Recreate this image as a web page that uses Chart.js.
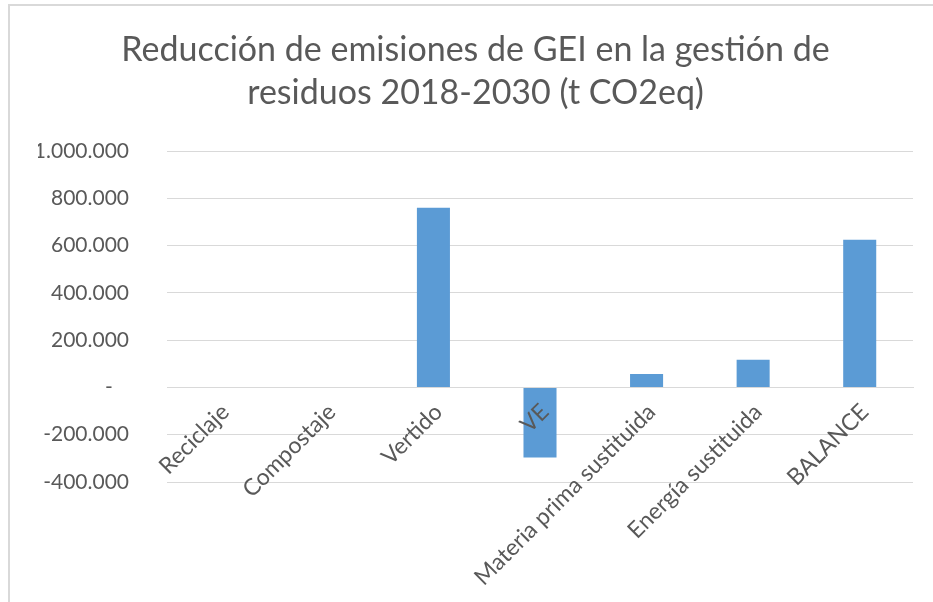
<!DOCTYPE html>
<html><head><meta charset="utf-8">
<script src="https://cdn.jsdelivr.net/npm/chart.js@4"></script>
<style>
html,body{margin:0;padding:0;background:#fff;overflow:hidden}
#wrap{position:relative;width:933px;height:602px}
#frame{position:absolute;left:8px;top:4px;width:940px;height:610px;border-left:2px solid #d9d9d9;border-top:2px solid #d9d9d9;pointer-events:none}
canvas{position:absolute;left:0;top:0}
</style></head><body>
<div id="wrap"><canvas id="c" width="933" height="602"></canvas><div id="frame"></div></div>
<script>
const titleLines = ['Reducción de emisiones de GEI en la gestión de', 'residuos 2018-2030 (t CO2eq)'];
const categories = ['Reciclaje', 'Compostaje', 'Vertido', 'VE', 'Materia prima sustituida', 'Energía sustituida', 'BALANCE'];
const values = [0, 0, 760000, -296000, 57000, 117000, 625000];
const yTicks = [-400000, -200000, 0, 200000, 400000, 600000, 800000, 1000000];
const yTickLabels = ['-400.000', '-200.000', '-   ', '200.000', '400.000', '600.000', '800.000', '1.000.000'];

const FONT = 'Lato';
const GREY = '#595959';

new Chart(document.getElementById('c').getContext('2d'), {
  type: 'bar',
  data: {
    labels: categories,
    datasets: [{
      data: values,
      backgroundColor: '#5b9bd5',
      barPercentage: 0.31,
      categoryPercentage: 1
    }]
  },
  options: {
    responsive: false,
    animation: false,
    layout: { padding: { left: 38, right: 20, top: 0, bottom: 120 } },
    plugins: {
      legend: { display: false },
      tooltip: { enabled: false },
      title: {
        display: true,
        text: titleLines,
        color: GREY,
        font: { family: FONT, size: 34, weight: 'normal', lineHeight: 1.265 },
        padding: { top: 29, bottom: 36 }
      }
    },
    scales: {
      x: {
        position: { y: 0 },
        grid: { display: false, drawTicks: false },
        border: { display: true, color: '#d9d9d9', width: 1 },
        ticks: {
          z: 1,
          color: GREY,
          font: { family: FONT, size: 23 },
          minRotation: 45,
          maxRotation: 45,
          autoSkip: false,
          padding: 11,
          labelOffset: 5
        }
      },
      y: {
        min: -400000,
        max: 1000000,
        afterBuildTicks: (scale) => { scale.ticks = yTicks.map(v => ({ value: v })); },
        afterFit: (scale) => { scale.width = 129; },
        grid: { color: '#d9d9d9', lineWidth: 1, drawTicks: false },
        border: { display: false },
        ticks: {
          color: GREY,
          font: { family: FONT, size: 21 },
          padding: 38,
          callback: (v) => { const i = yTicks.indexOf(v); return i >= 0 ? yTickLabels[i] : ''; }
        }
      }
    }
  }
});
</script>
</body></html>
